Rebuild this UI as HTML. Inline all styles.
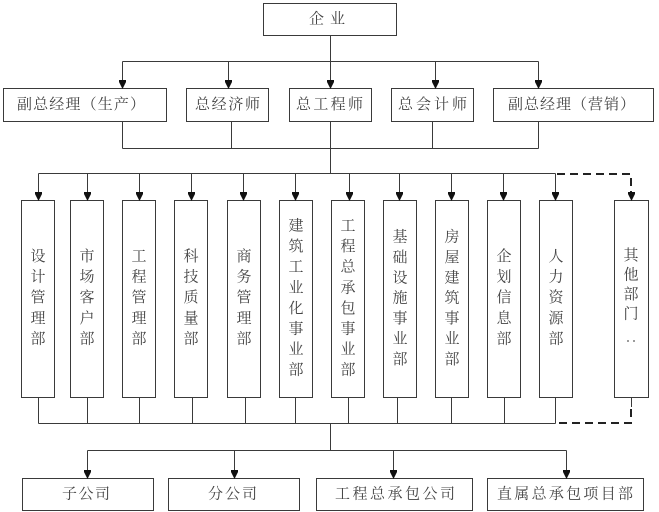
<!DOCTYPE html>
<html><head><meta charset="utf-8">
<style>
html,body{margin:0;padding:0;background:#fff;}
svg{display:block;}
text{font-family:"Liberation Serif","Noto Serif CJK SC","Noto Sans CJK SC",serif;fill:#444;font-size:15px;}
</style></head>
<body>
<svg width="659" height="512" viewBox="0 0 659 512" xmlns="http://www.w3.org/2000/svg">
<g stroke="#3a3a3a" stroke-width="1" fill="none">
  <rect x="263.5" y="3.5" width="133" height="32"/>
  <line x1="330.5" y1="35.5" x2="330.5" y2="61.5"/>
  <line x1="122.5" y1="61.5" x2="538.5" y2="61.5"/>
  <line x1="122.5" y1="61.5" x2="122.5" y2="82"/>
  <line x1="228.5" y1="61.5" x2="228.5" y2="82"/>
  <line x1="330.5" y1="61.5" x2="330.5" y2="82"/>
  <line x1="435.5" y1="61.5" x2="435.5" y2="82"/>
  <line x1="538.5" y1="61.5" x2="538.5" y2="82"/>
  <rect x="3.5" y="88.5" width="163" height="33"/>
  <rect x="186.5" y="88.5" width="82" height="33"/>
  <rect x="289.5" y="88.5" width="82" height="33"/>
  <rect x="391.5" y="88.5" width="82" height="33"/>
  <rect x="493.5" y="88.5" width="160" height="33"/>
  <line x1="122.5" y1="121.5" x2="122.5" y2="148.5"/>
  <line x1="231.5" y1="121.5" x2="231.5" y2="148.5"/>
  <line x1="330.5" y1="121.5" x2="330.5" y2="148.5"/>
  <line x1="432.5" y1="121.5" x2="432.5" y2="148.5"/>
  <line x1="538.5" y1="121.5" x2="538.5" y2="148.5"/>
  <line x1="122.5" y1="148.5" x2="538.5" y2="148.5"/>
  <line x1="330.5" y1="148.5" x2="330.5" y2="173.5"/>
  <line x1="38.5" y1="173.5" x2="555.5" y2="173.5"/>
  <line x1="38.5" y1="173.5" x2="38.5" y2="194"/>
  <line x1="87.5" y1="173.5" x2="87.5" y2="194"/>
  <line x1="139.5" y1="173.5" x2="139.5" y2="194"/>
  <line x1="191.5" y1="173.5" x2="191.5" y2="194"/>
  <line x1="243.5" y1="173.5" x2="243.5" y2="194"/>
  <line x1="295.5" y1="173.5" x2="295.5" y2="194"/>
  <line x1="349.5" y1="173.5" x2="349.5" y2="194"/>
  <line x1="399.5" y1="173.5" x2="399.5" y2="194"/>
  <line x1="451.5" y1="173.5" x2="451.5" y2="194"/>
  <line x1="503.5" y1="173.5" x2="503.5" y2="194"/>
  <line x1="555.5" y1="173.5" x2="555.5" y2="194"/>
  <rect x="21.5" y="200.5" width="33" height="197"/>
  <rect x="70.5" y="200.5" width="33" height="197"/>
  <rect x="122.5" y="200.5" width="33" height="197"/>
  <rect x="174.5" y="200.5" width="33" height="197"/>
  <rect x="227.5" y="200.5" width="33" height="197"/>
  <rect x="279.5" y="200.5" width="33" height="197"/>
  <rect x="331.5" y="200.5" width="33" height="197"/>
  <rect x="383.5" y="200.5" width="33" height="197"/>
  <rect x="435.5" y="200.5" width="33" height="197"/>
  <rect x="487.5" y="200.5" width="33" height="197"/>
  <rect x="539.5" y="200.5" width="33" height="197"/>
  <rect x="614.5" y="200.5" width="34" height="197"/>
  <line x1="38.5" y1="397.5" x2="38.5" y2="423.5"/>
  <line x1="87.5" y1="397.5" x2="87.5" y2="423.5"/>
  <line x1="139.5" y1="397.5" x2="139.5" y2="423.5"/>
  <line x1="192.5" y1="397.5" x2="192.5" y2="423.5"/>
  <line x1="245.5" y1="397.5" x2="245.5" y2="423.5"/>
  <line x1="295.5" y1="397.5" x2="295.5" y2="423.5"/>
  <line x1="348.5" y1="397.5" x2="348.5" y2="423.5"/>
  <line x1="397.5" y1="397.5" x2="397.5" y2="423.5"/>
  <line x1="451.5" y1="397.5" x2="451.5" y2="423.5"/>
  <line x1="504.5" y1="397.5" x2="504.5" y2="423.5"/>
  <line x1="555.5" y1="397.5" x2="555.5" y2="423.5"/>
  <line x1="631.5" y1="397.5" x2="631.5" y2="407"/>
  <line x1="38.5" y1="423.5" x2="555.5" y2="423.5"/>
  <line x1="330.5" y1="423.5" x2="330.5" y2="450.5"/>
  <line x1="87.5" y1="450.5" x2="566.5" y2="450.5"/>
  <line x1="87.5" y1="450.5" x2="87.5" y2="472"/>
  <line x1="234.5" y1="450.5" x2="234.5" y2="472"/>
  <line x1="393.5" y1="450.5" x2="393.5" y2="472"/>
  <line x1="566.5" y1="450.5" x2="566.5" y2="472"/>
  <rect x="22.5" y="478.5" width="131" height="32"/>
  <rect x="168.5" y="478.5" width="131" height="32"/>
  <rect x="316.5" y="478.5" width="156" height="32"/>
  <rect x="487.5" y="478.5" width="156" height="32"/>
</g>
<g stroke="#222" stroke-width="2" fill="none" stroke-dasharray="8,5">
  <polyline points="557,174 631,174 631,193"/>
  <polyline points="631,409 631,423 557,423"/>
</g>
<g fill="#111">
  <polygon points="119,80 126,80 126,82 122.5,89 119,82"/>
  <polygon points="225,80 232,80 232,82 228.5,89 225,82"/>
  <polygon points="327,80 334,80 334,82 330.5,89 327,82"/>
  <polygon points="432,80 439,80 439,82 435.5,89 432,82"/>
  <polygon points="535,80 542,80 542,82 538.5,89 535,82"/>
  <polygon points="35,192 42,192 42,194 38.5,201 35,194"/>
  <polygon points="84,192 91,192 91,194 87.5,201 84,194"/>
  <polygon points="136,192 143,192 143,194 139.5,201 136,194"/>
  <polygon points="188,192 195,192 195,194 191.5,201 188,194"/>
  <polygon points="240,192 247,192 247,194 243.5,201 240,194"/>
  <polygon points="292,192 299,192 299,194 295.5,201 292,194"/>
  <polygon points="346,192 353,192 353,194 349.5,201 346,194"/>
  <polygon points="396,192 403,192 403,194 399.5,201 396,194"/>
  <polygon points="448,192 455,192 455,194 451.5,201 448,194"/>
  <polygon points="500,192 507,192 507,194 503.5,201 500,194"/>
  <polygon points="552,192 559,192 559,194 555.5,201 552,194"/>
  <polygon points="628,192 635,192 635,194 631.5,201 628,194"/>
  <polygon points="84,470 91,470 91,472 87.5,479 84,472"/>
  <polygon points="231,470 238,470 238,472 234.5,479 231,472"/>
  <polygon points="390,470 397,470 397,472 393.5,479 390,472"/>
  <polygon points="563,470 570,470 570,472 566.5,479 563,472"/>
</g>
<g dominant-baseline="central">
  <text x="309" y="19.5" font-size="16" textLength="36" lengthAdjust="spacing">企业</text>
  <text x="17" y="105" textLength="128" lengthAdjust="spacing">副总经理（生产）</text>
  <text x="195" y="105" textLength="65" lengthAdjust="spacing">总经济师</text>
  <text x="296" y="105" textLength="67" lengthAdjust="spacing">总工程师</text>
  <text x="398" y="105" textLength="69" lengthAdjust="spacing">总会计师</text>
  <text x="508" y="105" textLength="127" lengthAdjust="spacing">副总经理（营销）</text>
  <text x="62" y="494.5" textLength="48" lengthAdjust="spacing">子公司</text>
  <text x="208" y="494.5" textLength="49" lengthAdjust="spacing">分公司</text>
  <text x="335" y="494.5" textLength="120" lengthAdjust="spacing">工程总承包公司</text>
  <text x="497" y="494.5" textLength="136" lengthAdjust="spacing">直属总承包项目部</text>
</g>
<g text-anchor="middle" dominant-baseline="central">
  <text x="38" y="257">设</text><text x="38" y="277.6">计</text><text x="38" y="298.2">管</text><text x="38" y="318.8">理</text><text x="38" y="339.4">部</text>
  <text x="87" y="257">市</text><text x="87" y="277.6">场</text><text x="87" y="298.2">客</text><text x="87" y="318.8">户</text><text x="87" y="339.4">部</text>
  <text x="139" y="257">工</text><text x="139" y="277.6">程</text><text x="139" y="298.2">管</text><text x="139" y="318.8">理</text><text x="139" y="339.4">部</text>
  <text x="191" y="257">科</text><text x="191" y="277.6">技</text><text x="191" y="298.2">质</text><text x="191" y="318.8">量</text><text x="191" y="339.4">部</text>
  <text x="244" y="257">商</text><text x="244" y="277.6">务</text><text x="244" y="298.2">管</text><text x="244" y="318.8">理</text><text x="244" y="339.4">部</text>
  <text x="296" y="226.5">建</text><text x="296" y="247.1">筑</text><text x="296" y="267.7">工</text><text x="296" y="288.3">业</text><text x="296" y="308.9">化</text><text x="296" y="329.5">事</text><text x="296" y="350.1">业</text><text x="296" y="370.7">部</text>
  <text x="348" y="226.5">工</text><text x="348" y="247.1">程</text><text x="348" y="267.7">总</text><text x="348" y="288.3">承</text><text x="348" y="308.9">包</text><text x="348" y="329.5">事</text><text x="348" y="350.1">业</text><text x="348" y="370.7">部</text>
  <text x="400" y="237.5">基</text><text x="400" y="257.9">础</text><text x="400" y="278.3">设</text><text x="400" y="298.7">施</text><text x="400" y="319.1">事</text><text x="400" y="339.5">业</text><text x="400" y="359.9">部</text>
  <text x="452" y="237.5">房</text><text x="452" y="257.9">屋</text><text x="452" y="278.3">建</text><text x="452" y="298.7">筑</text><text x="452" y="319.1">事</text><text x="452" y="339.5">业</text><text x="452" y="359.9">部</text>
  <text x="504" y="257">企</text><text x="504" y="277.6">划</text><text x="504" y="298.2">信</text><text x="504" y="318.8">息</text><text x="504" y="339.4">部</text>
  <text x="556" y="257">人</text><text x="556" y="277.6">力</text><text x="556" y="298.2">资</text><text x="556" y="318.8">源</text><text x="556" y="339.4">部</text>
  <text x="631" y="256">其</text><text x="631" y="275.5">他</text><text x="631" y="295">部</text><text x="631" y="314.5">门</text>
</g>
<circle cx="628" cy="341" r="0.9" fill="#555"/>
<circle cx="634" cy="341" r="0.9" fill="#555"/>
</svg>
</body></html>
